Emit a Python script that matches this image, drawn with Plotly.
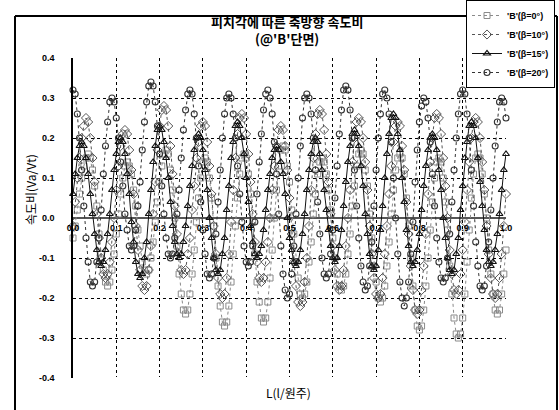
import plotly.graph_objects as go

# ---------------- data ----------------
X = [0.000, 0.005, 0.010, 0.015, 0.020, 0.025, 0.030, 0.035, 0.040, 0.045,
     0.050, 0.055, 0.060, 0.065, 0.070, 0.075, 0.080, 0.085, 0.090, 0.095,
     0.100, 0.105, 0.110, 0.115, 0.120, 0.125, 0.130, 0.135, 0.140, 0.145,
     0.150, 0.155, 0.160, 0.165, 0.170, 0.175, 0.180, 0.185, 0.190, 0.195,
     0.200, 0.205, 0.210, 0.215, 0.220, 0.225, 0.230, 0.235, 0.240, 0.245,
     0.250, 0.255, 0.260, 0.265, 0.270, 0.275, 0.280, 0.285, 0.290, 0.295,
     0.300, 0.305, 0.310, 0.315, 0.320, 0.325, 0.330, 0.335, 0.340, 0.345,
     0.350, 0.355, 0.360, 0.365, 0.370, 0.375, 0.380, 0.385, 0.390, 0.395,
     0.400, 0.405, 0.410, 0.415, 0.420, 0.425, 0.430, 0.435, 0.440, 0.445,
     0.450, 0.455, 0.460, 0.465, 0.470, 0.475, 0.480, 0.485, 0.490, 0.495,
     0.500, 0.505, 0.510, 0.515, 0.520, 0.525, 0.530, 0.535, 0.540, 0.545,
     0.550, 0.555, 0.560, 0.565, 0.570, 0.575, 0.580, 0.585, 0.590, 0.595,
     0.600, 0.605, 0.610, 0.615, 0.620, 0.625, 0.630, 0.635, 0.640, 0.645,
     0.650, 0.655, 0.660, 0.665, 0.670, 0.675, 0.680, 0.685, 0.690, 0.695,
     0.700, 0.705, 0.710, 0.715, 0.720, 0.725, 0.730, 0.735, 0.740, 0.745,
     0.750, 0.755, 0.760, 0.765, 0.770, 0.775, 0.780, 0.785, 0.790, 0.795,
     0.800, 0.805, 0.810, 0.815, 0.820, 0.825, 0.830, 0.835, 0.840, 0.845,
     0.850, 0.855, 0.860, 0.865, 0.870, 0.875, 0.880, 0.885, 0.890, 0.895,
     0.900, 0.905, 0.910, 0.915, 0.920, 0.925, 0.930, 0.935, 0.940, 0.945,
     0.950, 0.955, 0.960, 0.965, 0.970, 0.975, 0.980, 0.985, 0.990, 0.995,
     1.000]

Y_B0 = [-0.05, -0.02, 0.02, 0.06, 0.10, 0.13, 0.15,
        0.16, 0.15, 0.12, 0.08, 0.03, -0.04, -0.09, -0.13, -0.16, -0.17, -0.16, -0.13, -0.09, -0.04, 0.01, 0.06, 0.10, 0.13,
        0.14, 0.13, 0.11, 0.07, 0.03, -0.03, -0.07, -0.11, -0.13, -0.14, -0.13, -0.10, -0.06, -0.01, 0.04, 0.09, 0.13, 0.16,
        0.17, 0.16, 0.12, 0.07, 0.00, -0.07, -0.14, -0.19, -0.23, -0.24, -0.23, -0.19, -0.14, -0.08, -0.01, 0.05, 0.10, 0.14,
        0.15, 0.14, 0.10, 0.05, -0.02, -0.10, -0.17, -0.22, -0.26, -0.27, -0.26, -0.22, -0.16, -0.09, -0.02, 0.05, 0.11, 0.15,
        0.16, 0.15, 0.11, 0.06, -0.01, -0.09, -0.16, -0.21, -0.25, -0.26, -0.25, -0.21, -0.15, -0.08, 0.00, 0.07, 0.13, 0.17,
        0.18, 0.17, 0.13, 0.09, 0.02, -0.04, -0.11, -0.15, -0.19, -0.20, -0.19, -0.16, -0.11, -0.06, 0.01, 0.06, 0.11, 0.14,
        0.15, 0.14, 0.11, 0.07, 0.02, -0.05, -0.10, -0.14, -0.17, -0.18, -0.17, -0.14, -0.09, -0.04, 0.03, 0.08, 0.13, 0.16,
        0.17, 0.16, 0.12, 0.08, 0.01, -0.05, -0.12, -0.16, -0.20, -0.21, -0.20, -0.17, -0.12, -0.06, 0.01, 0.07, 0.12, 0.15,
        0.16, 0.15, 0.11, 0.05, -0.02, -0.10, -0.17, -0.23, -0.27, -0.28, -0.27, -0.23, -0.17, -0.10, -0.03, 0.04, 0.10, 0.14,
        0.15, 0.14, 0.10, 0.04, -0.03, -0.12, -0.19, -0.25, -0.29, -0.30, -0.29, -0.25, -0.19, -0.11, -0.03, 0.05, 0.11, 0.15,
        0.16, 0.15, 0.11, 0.06, 0.00, -0.08, -0.14, -0.19, -0.23, -0.24, -0.23, -0.19, -0.14, -0.08]

Y_B10 = [-0.02, 0.04, 0.10, 0.15, 0.20, 0.23,
         0.25, 0.24, 0.20, 0.15, 0.09, 0.01, -0.05, -0.10, -0.14, -0.15, -0.14, -0.11, -0.06, 0.00, 0.07, 0.13, 0.18, 0.21,
         0.22, 0.21, 0.17, 0.12, 0.06, -0.02, -0.08, -0.13, -0.17, -0.18, -0.17, -0.13, -0.07, 0.01, 0.09, 0.17, 0.23, 0.27,
         0.28, 0.27, 0.23, 0.18, 0.11, 0.03, -0.04, -0.09, -0.13, -0.14, -0.13, -0.09, -0.05, 0.02, 0.08, 0.15, 0.19, 0.23,
         0.24, 0.23, 0.19, 0.13, 0.06, -0.02, -0.09, -0.15, -0.19, -0.20, -0.19, -0.15, -0.09, -0.01, 0.07, 0.15, 0.21, 0.25,
         0.26, 0.25, 0.21, 0.16, 0.09, 0.01, -0.06, -0.11, -0.15, -0.16, -0.15, -0.11, -0.06, 0.00, 0.07, 0.13, 0.18, 0.22,
         0.23, 0.22, 0.18, 0.12, 0.05, -0.04, -0.11, -0.17, -0.21, -0.22, -0.21, -0.16, -0.10, -0.02, 0.07, 0.15, 0.21, 0.26,
         0.27, 0.26, 0.22, 0.16, 0.09, 0.01, -0.07, -0.13, -0.17, -0.18, -0.17, -0.13, -0.07, 0.00, 0.07, 0.14, 0.20, 0.24,
         0.25, 0.24, 0.20, 0.14, 0.07, -0.02, -0.09, -0.15, -0.19, -0.20, -0.19, -0.15, -0.09, -0.02, 0.06, 0.13, 0.19, 0.23,
         0.24, 0.23, 0.18, 0.12, 0.04, -0.04, -0.12, -0.18, -0.23, -0.24, -0.23, -0.18, -0.12, -0.04, 0.06, 0.14, 0.20, 0.25,
         0.26, 0.25, 0.21, 0.15, 0.08, 0.00, -0.08, -0.14, -0.18, -0.19, -0.18, -0.14, -0.08, -0.01, 0.07, 0.14, 0.20, 0.24,
         0.25, 0.24, 0.20, 0.14, 0.07, -0.02, -0.09, -0.15, -0.19, -0.20, -0.19, -0.15, -0.09, -0.02, 0.06]

Y_B15 = [0.06, 0.11, 0.15, 0.18,
         0.19, 0.18, 0.15, 0.11, 0.06, 0.01, -0.04, -0.08, -0.11, -0.12, -0.11, -0.08, -0.04, 0.01, 0.07, 0.12, 0.16, 0.19,
         0.20, 0.19, 0.16, 0.11, 0.06, -0.01, -0.06, -0.11, -0.14, -0.15, -0.14, -0.10, -0.06, 0.01, 0.07, 0.14, 0.18, 0.22,
         0.23, 0.22, 0.19, 0.15, 0.10, 0.04, -0.02, -0.06, -0.09, -0.10, -0.09, -0.06, -0.02, 0.03, 0.08, 0.13, 0.17, 0.20,
         0.21, 0.20, 0.17, 0.12, 0.07, 0.00, -0.05, -0.10, -0.13, -0.14, -0.13, -0.09, -0.05, 0.02, 0.08, 0.15, 0.19, 0.23,
         0.24, 0.23, 0.20, 0.16, 0.10, 0.04, -0.02, -0.06, -0.09, -0.10, -0.09, -0.07, -0.03, 0.02, 0.07, 0.11, 0.15, 0.17,
         0.18, 0.17, 0.14, 0.11, 0.06, 0.00, -0.05, -0.08, -0.11, -0.12, -0.11, -0.08, -0.04, 0.01, 0.07, 0.12, 0.16, 0.19,
         0.20, 0.19, 0.16, 0.12, 0.07, 0.02, -0.03, -0.07, -0.10, -0.11, -0.10, -0.07, -0.03, 0.03, 0.09, 0.14, 0.18, 0.21,
         0.22, 0.21, 0.18, 0.13, 0.08, 0.01, -0.04, -0.09, -0.12, -0.13, -0.12, -0.08, -0.03, 0.03, 0.10, 0.16, 0.21, 0.25,
         0.26, 0.25, 0.21, 0.17, 0.10, 0.04, -0.03, -0.07, -0.11, -0.12, -0.11, -0.08, -0.04, 0.02, 0.08, 0.13, 0.17, 0.20,
         0.21, 0.20, 0.17, 0.12, 0.07, 0.00, -0.05, -0.10, -0.13, -0.14, -0.13, -0.09, -0.05, 0.02, 0.08, 0.15, 0.19, 0.23,
         0.24, 0.23, 0.20, 0.15, 0.09, 0.03, -0.03, -0.08, -0.11, -0.12, -0.11, -0.08, -0.04, 0.01, 0.07, 0.12, 0.16]

Y_B20 = [0.32, 0.31, 0.26, 0.20, 0.12, 0.03, -0.05, -0.11, -0.16, -0.17, -0.16, -0.11, -0.05, 0.02, 0.11, 0.18, 0.24, 0.29,
         0.30, 0.29, 0.25, 0.20, 0.14, 0.08, 0.01, -0.03, -0.07, -0.08, -0.07, -0.03, 0.03, 0.09, 0.17, 0.24, 0.29, 0.33,
         0.34, 0.33, 0.29, 0.23, 0.16, 0.08, 0.01, -0.05, -0.09, -0.10, -0.09, -0.05, 0.01, 0.07, 0.15, 0.22, 0.27, 0.31,
         0.32, 0.31, 0.26, 0.20, 0.13, 0.04, -0.03, -0.09, -0.14, -0.15, -0.14, -0.10, -0.04, 0.04, 0.12, 0.20, 0.26, 0.30,
         0.31, 0.30, 0.26, 0.20, 0.13, 0.06, -0.01, -0.07, -0.11, -0.12, -0.11, -0.07, -0.01, 0.06, 0.14, 0.21, 0.27, 0.31,
         0.32, 0.30, 0.26, 0.19, 0.11, 0.01, -0.07, -0.14, -0.18, -0.20, -0.19, -0.14, -0.07, 0.01, 0.10, 0.18, 0.25, 0.30,
         0.31, 0.30, 0.26, 0.20, 0.12, 0.04, -0.04, -0.10, -0.14, -0.15, -0.14, -0.09, -0.03, 0.05, 0.13, 0.21, 0.27, 0.32,
         0.33, 0.32, 0.27, 0.20, 0.12, 0.03, -0.05, -0.12, -0.16, -0.18, -0.17, -0.12, -0.06, 0.03, 0.12, 0.20, 0.26, 0.31,
         0.32, 0.30, 0.26, 0.19, 0.10, 0.00, -0.09, -0.16, -0.20, -0.22, -0.20, -0.16, -0.09, -0.01, 0.09, 0.17, 0.24, 0.28,
         0.30, 0.29, 0.25, 0.19, 0.11, 0.03, -0.05, -0.11, -0.15, -0.16, -0.15, -0.10, -0.04, 0.04, 0.12, 0.20, 0.26, 0.31,
         0.32, 0.31, 0.26, 0.20, 0.12, 0.03, -0.06, -0.12, -0.17, -0.18, -0.17, -0.12, -0.06, 0.02, 0.10, 0.18, 0.24, 0.29,
         0.30, 0.29, 0.25]

SERIES_NAMES = ["'B'(β=0°)", "'B'(β=10°)", "'B'(β=15°)", "'B'(β=20°)"]
Y_TICKS = [0.4, 0.3, 0.2, 0.1, 0.0, -0.1, -0.2, -0.3, -0.4]
Y_TICK_TEXT = ["0.4", "0.3", "0.2", "0.1", "0.0", "-0.1", "-0.2", "-0.3", "-0.4"]
X_TICKS = [0.0, 0.1, 0.2, 0.3, 0.4, 0.5, 0.6, 0.7, 0.8, 0.9, 1.0]
X_TICK_TEXT = ["0.0", "0.1", "0.2", "0.3", "0.4", "0.5", "0.6", "0.7", "0.8", "0.9", "1.0"]

for ys in (Y_B0, Y_B10, Y_B15, Y_B20):
    assert len(ys) == len(X), len(ys)

# ---------------- figure ----------------
W, H = 559, 410
ML, MR, MT, MB = 73, 53, 58, 32
PW, PH = W - ML - MR, H - MT - MB


def px_x(p):
    return (p - ML) / PW


def px_y(p):
    return (H - MB - p) / PH


KR = "Noto Sans CJK KR"
NUM = "Liberation Sans"

styles = [
    dict(line=dict(color="#8a8a8a", width=1, dash="dot"),
         marker=dict(symbol="square-open", size=6, color="#8a8a8a", line=dict(width=1))),
    dict(line=dict(color="#555555", width=1, dash="dot"),
         marker=dict(symbol="diamond-open", size=7, color="#555555", line=dict(width=1))),
    dict(line=dict(color="#111111", width=1),
         marker=dict(symbol="triangle-up-open", size=6, color="#111111", line=dict(width=1.2))),
    dict(line=dict(color="#333333", width=1, dash="dot"),
         marker=dict(symbol="circle-open", size=6, color="#333333", line=dict(width=1.1))),
]

fig = go.Figure()
for name, ys, st in zip(SERIES_NAMES, (Y_B0, Y_B10, Y_B15, Y_B20), styles):
    fig.add_trace(go.Scatter(x=X, y=ys, name=name, mode="lines+markers",
                             line=st["line"], marker=st["marker"], cliponaxis=False))

fig.update_layout(
    width=W, height=H,
    margin=dict(l=ML, r=MR, t=MT, b=MB, autoexpand=False),
    paper_bgcolor="white", plot_bgcolor="white",
    font=dict(family=NUM, color="black"),
    showlegend=True,
    legend=dict(x=px_x(466), y=px_y(0), xanchor="left", yanchor="top",
                bgcolor="white", bordercolor="black", borderwidth=1,
                font=dict(family=NUM, size=9, weight="bold"),
                itemwidth=30, tracegroupgap=0),
    xaxis=dict(range=[0, 1.0], tickvals=X_TICKS, ticktext=X_TICK_TEXT,
               anchor="free", position=0.5, showline=False, zeroline=False,
               showgrid=True, gridcolor="black", gridwidth=1, griddash="dot",
               ticks="outside", ticklen=1, tickcolor="rgba(0,0,0,0)",
               tickfont=dict(family=NUM, size=9, weight="bold")),
    yaxis=dict(range=[-0.4, 0.4], tickvals=Y_TICKS, ticktext=Y_TICK_TEXT,
               showline=True, linecolor="black", linewidth=1.5,
               showgrid=True, gridcolor="black", gridwidth=1, griddash="dot",
               zeroline=True, zerolinecolor="#555555", zerolinewidth=2,
               ticks="outside", ticklen=15, tickcolor="rgba(0,0,0,0)",
               tickfont=dict(family=NUM, size=9, weight="bold")),
)

# hide the dotted grid line along the bottom edge (absent in the reference)
fig.add_shape(type="line", xref="paper", yref="paper",
              x0=0.004, x1=0.998, y0=0, y1=0,
              line=dict(color="white", width=2))

# outer frame of the chart (left, top, right edges), drawn in the lower layer
for (ax0, ay0, ax1, ay1) in ((15, 410, 15, 16), (15, 16, 557, 16), (557, 410, 557, 16)):
    fig.add_shape(type="line", xref="paper", yref="paper", layer="below",
                  x0=px_x(ax0), y0=px_y(ay0), x1=px_x(ax1), y1=px_y(ay1),
                  line=dict(color="black", width=2))

fig.add_annotation(text="피치각에 따른 축방향 속도비<br>(@'B'단면)",
                   x=px_x(287), y=px_y(30), xref="paper", yref="paper",
                   xanchor="center", yanchor="middle",
                   showarrow=False, align="center",
                   font=dict(family=KR, size=13, weight="bold"))
fig.add_annotation(text="속도비(Va/Vt)", x=px_x(30), y=px_y(190),
                   xref="paper", yref="paper", showarrow=False, textangle=-90,
                   xanchor="center", yanchor="middle",
                   font=dict(family=KR, size=12))
fig.add_annotation(text="L(l/원주)", x=px_x(288), y=px_y(392),
                   xref="paper", yref="paper", showarrow=False,
                   xanchor="center", yanchor="middle",
                   font=dict(family=KR, size=12))

fig.write_html("out.html", config={"displayModeBar": False},
               post_script="document.body.style.margin='0';document.body.style.padding='0';")
